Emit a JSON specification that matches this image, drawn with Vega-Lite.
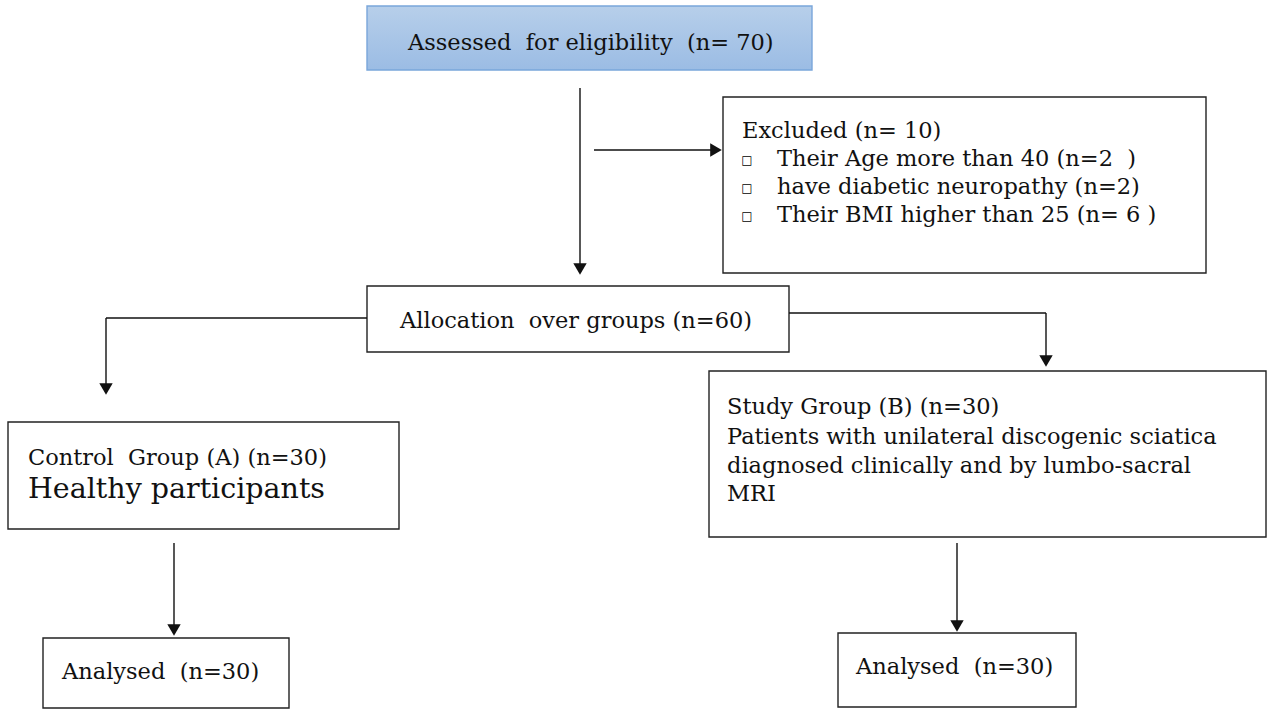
{
  "$schema": "https://vega.github.io/schema/vega-lite/v6.json",
  "width": 1272,
  "height": 709,
  "autosize": {"type": "fit", "contains": "padding"},
  "padding": 0,
  "background": "white",
  "config": {"view": {"stroke": null}, "axis": {"disable": true}},
  "datasets": {
    "boxes": [
      {"id": "assessed", "x1": 367, "x2": 812, "y1": 6, "y2": 70, "kind": "blue"},
      {"id": "excluded", "x1": 723, "x2": 1206, "y1": 97, "y2": 273, "kind": "white"},
      {"id": "allocation", "x1": 367, "x2": 789, "y1": 286, "y2": 352, "kind": "white"},
      {"id": "control", "x1": 8, "x2": 399, "y1": 422, "y2": 529, "kind": "white"},
      {"id": "study", "x1": 709, "x2": 1266, "y1": 371, "y2": 537, "kind": "white"},
      {"id": "analysedA", "x1": 43, "x2": 289, "y1": 638, "y2": 708, "kind": "white"},
      {"id": "analysedB", "x1": 838, "x2": 1076, "y1": 633, "y2": 707, "kind": "white"}
    ],
    "segs": [
      {"x1": 580, "y1": 88, "x2": 580, "y2": 265},
      {"x1": 594, "y1": 150, "x2": 712, "y2": 150},
      {"x1": 367, "y1": 318, "x2": 106, "y2": 318},
      {"x1": 106, "y1": 318, "x2": 106, "y2": 386},
      {"x1": 789, "y1": 313, "x2": 1046, "y2": 313},
      {"x1": 1046, "y1": 313, "x2": 1046, "y2": 358},
      {"x1": 174, "y1": 543, "x2": 174, "y2": 627},
      {"x1": 957, "y1": 543, "x2": 957, "y2": 623}
    ],
    "heads": [
      {"x": 580, "y": 269, "dir": "down"},
      {"x": 106, "y": 389, "dir": "down"},
      {"x": 1046, "y": 361, "dir": "down"},
      {"x": 174, "y": 630, "dir": "down"},
      {"x": 957, "y": 626, "dir": "down"},
      {"x": 716, "y": 150, "dir": "right"}
    ],
    "labels": [
      {"x": 408, "y": 43, "text": "Assessed\u00a0 for eligibility\u00a0 (n= 70)", "kind": "normal"},
      {"x": 742, "y": 131, "text": "Excluded (n= 10)", "kind": "normal"},
      {"x": 777, "y": 159, "text": "Their Age more than 40 (n=2\u00a0 )", "kind": "normal"},
      {"x": 777, "y": 187, "text": "have diabetic neuropathy (n=2)", "kind": "normal"},
      {"x": 777, "y": 215, "text": "Their BMI higher than 25 (n= 6 )", "kind": "normal"},
      {"x": 400, "y": 321, "text": "Allocation\u00a0 over groups (n=60)", "kind": "normal"},
      {"x": 28, "y": 458, "text": "Control\u00a0 Group (A) (n=30)", "kind": "normal"},
      {"x": 28, "y": 489, "text": "Healthy participants", "kind": "large"},
      {"x": 727, "y": 407, "text": "Study Group (B) (n=30)", "kind": "normal"},
      {"x": 727, "y": 437, "text": "Patients with unilateral discogenic sciatica", "kind": "normal"},
      {"x": 727, "y": 466, "text": "diagnosed clinically and by lumbo-sacral", "kind": "normal"},
      {"x": 727, "y": 494, "text": "MRI", "kind": "normal"},
      {"x": 62, "y": 672, "text": "Analysed\u00a0 (n=30)", "kind": "normal"},
      {"x": 856, "y": 667, "text": "Analysed\u00a0 (n=30)", "kind": "normal"},
      {"x": 747, "y": 160, "text": "□", "kind": "bullet"},
      {"x": 747, "y": 188, "text": "□", "kind": "bullet"},
      {"x": 747, "y": 216, "text": "□", "kind": "bullet"}
    ]
  },
  "layer": [
    {
      "data": {"name": "boxes"},
      "transform": [{"filter": "datum.kind === 'white'"}],
      "mark": {"type": "rect", "fill": "white", "stroke": "#222222", "strokeWidth": 1.4},
      "encoding": {
        "x": {"field": "x1", "type": "quantitative", "scale": {"domain": [0, 1272], "nice": false, "zero": false}},
        "x2": {"field": "x2"},
        "y": {"field": "y1", "type": "quantitative", "scale": {"domain": [0, 709], "nice": false, "zero": false, "reverse": true}},
        "y2": {"field": "y2"}
      }
    },
    {
      "data": {"name": "boxes"},
      "transform": [{"filter": "datum.kind === 'blue'"}],
      "mark": {
        "type": "rect",
        "stroke": "#7aa6da",
        "strokeWidth": 1.4,
        "fill": {"gradient": "linear", "x1": 0, "y1": 0, "x2": 0, "y2": 1, "stops": [{"offset": 0, "color": "#b7cfea"}, {"offset": 1, "color": "#9bbce4"}]}
      },
      "encoding": {
        "x": {"field": "x1", "type": "quantitative", "scale": {"domain": [0, 1272], "nice": false, "zero": false}},
        "x2": {"field": "x2"},
        "y": {"field": "y1", "type": "quantitative", "scale": {"domain": [0, 709], "nice": false, "zero": false, "reverse": true}},
        "y2": {"field": "y2"}
      }
    },
    {
      "data": {"name": "segs"},
      "mark": {"type": "rule", "color": "#111111", "strokeWidth": 1.4},
      "encoding": {
        "x": {"field": "x1", "type": "quantitative", "scale": {"domain": [0, 1272], "nice": false, "zero": false}},
        "x2": {"field": "x2"},
        "y": {"field": "y1", "type": "quantitative", "scale": {"domain": [0, 709], "nice": false, "zero": false, "reverse": true}},
        "y2": {"field": "y2"}
      }
    },
    {
      "data": {"name": "heads"},
      "transform": [{"filter": "datum.dir === 'down'"}],
      "mark": {"type": "point", "shape": "triangle-down", "filled": true, "color": "#111111", "opacity": 1, "size": 180},
      "encoding": {
        "x": {"field": "x", "type": "quantitative", "scale": {"domain": [0, 1272], "nice": false, "zero": false}},
        "y": {"field": "y", "type": "quantitative", "scale": {"domain": [0, 709], "nice": false, "zero": false, "reverse": true}}
      }
    },
    {
      "data": {"name": "heads"},
      "transform": [{"filter": "datum.dir === 'right'"}],
      "mark": {"type": "point", "shape": "triangle-right", "filled": true, "color": "#111111", "opacity": 1, "size": 180},
      "encoding": {
        "x": {"field": "x", "type": "quantitative", "scale": {"domain": [0, 1272], "nice": false, "zero": false}},
        "y": {"field": "y", "type": "quantitative", "scale": {"domain": [0, 709], "nice": false, "zero": false, "reverse": true}}
      }
    },
    {
      "data": {"name": "labels"},
      "transform": [{"filter": "datum.kind === 'normal'"}],
      "mark": {"type": "text", "align": "left", "baseline": "middle", "font": "DejaVu Serif", "fontSize": 22.5, "color": "#111111"},
      "encoding": {
        "x": {"field": "x", "type": "quantitative", "scale": {"domain": [0, 1272], "nice": false, "zero": false}},
        "y": {"field": "y", "type": "quantitative", "scale": {"domain": [0, 709], "nice": false, "zero": false, "reverse": true}},
        "text": {"field": "text"}
      }
    },
    {
      "data": {"name": "labels"},
      "transform": [{"filter": "datum.kind === 'large'"}],
      "mark": {"type": "text", "align": "left", "baseline": "middle", "font": "DejaVu Serif", "fontSize": 28.5, "color": "#111111"},
      "encoding": {
        "x": {"field": "x", "type": "quantitative", "scale": {"domain": [0, 1272], "nice": false, "zero": false}},
        "y": {"field": "y", "type": "quantitative", "scale": {"domain": [0, 709], "nice": false, "zero": false, "reverse": true}},
        "text": {"field": "text"}
      }
    },
    {
      "data": {"name": "labels"},
      "transform": [{"filter": "datum.kind === 'bullet'"}],
      "mark": {"type": "text", "align": "center", "baseline": "middle", "font": "DejaVu Sans", "fontSize": 12, "color": "#000000"},
      "encoding": {
        "x": {"field": "x", "type": "quantitative", "scale": {"domain": [0, 1272], "nice": false, "zero": false}},
        "y": {"field": "y", "type": "quantitative", "scale": {"domain": [0, 709], "nice": false, "zero": false, "reverse": true}},
        "text": {"field": "text"}
      }
    }
  ]
}
